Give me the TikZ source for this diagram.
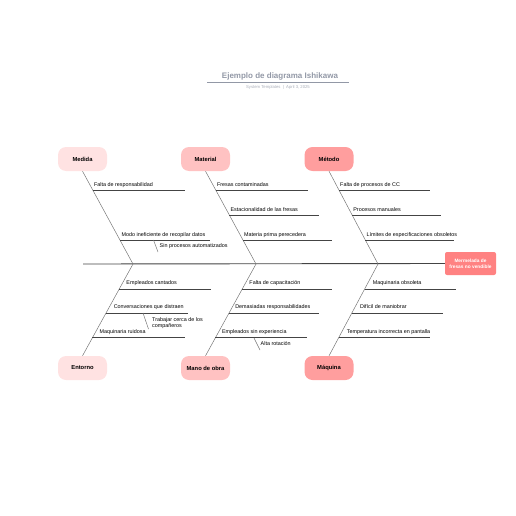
\documentclass[tikz,border=0pt]{standalone}
\usepackage{fontspec}
\setmainfont{Liberation Sans}
\usetikzlibrary{calc}
\definecolor{boxA}{HTML}{FFE2E2}
\definecolor{boxB}{HTML}{FFC2C2}
\definecolor{boxC}{HTML}{FF9E9E}
\definecolor{effectc}{HTML}{FF8282}
\definecolor{titlec}{HTML}{9298A6}
\definecolor{linec}{HTML}{444444}
\definecolor{bonec}{HTML}{777777}
\tikzset{
  catbox/.style={rounded corners=8pt, minimum width=49pt, minimum height=24pt, inner sep=0pt, font=\fontsize{5.8}{7}\selectfont\bfseries},
  effectbox/.style={rounded corners=2pt, fill=effectc, minimum width=51pt, minimum height=23pt, inner sep=0pt, align=center, text=white, font=\fontsize{4.8}{6}\selectfont\bfseries},
  bone/.style={draw=bonec, line width=0.5pt},
  cause/.style={draw=linec, line width=0.8pt},
  spine/.style={draw=linec, line width=0.9pt},
  ctext/.style={anchor=base west, inner sep=0pt, font=\fontsize{5.4}{6.5}\selectfont},
  subtext/.style={anchor=base west, inner sep=0pt, align=left, font=\fontsize{5.4}{6.8}\selectfont},
}
\begin{document}
\begin{tikzpicture}[x=1pt,y=-1pt]
\useasboundingbox (0,0) rectangle (516,516);
% title
\node[inner sep=0pt, font=\fontsize{8}{9}\selectfont\bfseries, text=titlec] (title) at (280,76) {Ejemplo de diagrama Ishikawa};
\coordinate (rl) at (207,82.5);
\coordinate (rr) at (349,82.5);
\draw[titlec, line width=0.7pt] (rl) -- (rr);
\node[inner sep=0pt, font=\fontsize{4.2}{5}\selectfont, text=titlec!80] (sub) at (278,87.5) {System Templates \ |\ \ April 3, 2025};
% boxes
\node[catbox, fill=boxA] (medida) at (82.5,159) {Medida};
\node[catbox, fill=boxB] (material) at (205.5,159) {Material};
\node[catbox, fill=boxC] (metodo) at (329,159) {Método};
\node[catbox, fill=boxA] (entorno) at (82.5,368) {Entorno};
\node[catbox, fill=boxB] (mano) at (205.5,368) {Mano de obra};
\node[catbox, fill=boxC] (maquina) at (329,368) {Máquina};
\node[effectbox] (effect) at (470.5,263.5) {Mermelada de\\fresas no vendible};
% spine
\coordinate (s0) at (83,264);
\draw[spine] (s0) -- (effect.west);
% joints
\coordinate (j1) at (133,264);
\coordinate (j2) at (256,264);
\coordinate (j3) at (378,264);
\draw[bone] (medida.south) -- (j1) -- (entorno.north);
\draw[bone] (material.south) -- (j2) -- (mano.north);
\draw[bone] (metodo.south) -- (j3) -- (maquina.north);
% Medida
\coordinate (a1) at ($(medida.south)!0.204!(j1)$);
\coordinate (a2) at ($(medida.south)!0.742!(j1)$);
\draw[cause] (a1) -- ++(92,0);
\draw[cause] (a2) -- ++(90,0);
\node[ctext] (ta1) at ($(a1)+(1,-4)$) {Falta de responsabilidad};
\node[ctext] (ta2) at ($(a2)+(1.5,-4)$) {Modo ineficiente de recopilar datos};
\coordinate (sa1) at (153.5,240);
\coordinate (sa2) at (158,252);
\draw[bone] (sa1) -- (sa2);
\node[subtext] (tsa) at (159.5,247) {Sin procesos automatizados};
% Material
\coordinate (b1) at ($(material.south)!0.204!(j2)$);
\coordinate (b2) at ($(material.south)!0.473!(j2)$);
\coordinate (b3) at ($(material.south)!0.742!(j2)$);
\draw[cause] (b1) -- ++(92,0);
\draw[cause] (b2) -- ++(90,0);
\draw[cause] (b3) -- ++(89,0);
\node[ctext] (tb1) at ($(b1)+(1,-4)$) {Fresas contaminadas};
\node[ctext] (tb2) at ($(b2)+(1,-4)$) {Estacionalidad de las fresas};
\node[ctext] (tb3) at ($(b3)+(1,-4)$) {Materia prima perecedera};
% Metodo
\coordinate (c1) at ($(metodo.south)!0.204!(j3)$);
\coordinate (c2) at ($(metodo.south)!0.473!(j3)$);
\coordinate (c3) at ($(metodo.south)!0.742!(j3)$);
\draw[cause] (c1) -- ++(91,0);
\draw[cause] (c2) -- ++(89,0);
\draw[cause] (c3) -- ++(89,0);
\node[ctext] (tc1) at ($(c1)+(1,-4)$) {Falta de procesos de CC};
\node[ctext] (tc2) at ($(c2)+(1,-4)$) {Procesos manuales};
\node[ctext] (tc3) at ($(c3)+(1,-4)$) {Límites de especificaciones obsoletos};
% Entorno
\coordinate (d1) at ($(j1)!0.272!(entorno.north)$);
\coordinate (d2) at ($(j1)!0.533!(entorno.north)$);
\coordinate (d3) at ($(j1)!0.804!(entorno.north)$);
\draw[cause] (d1) -- ++(92,0);
\draw[cause] (d2) -- ++(82,0);
\draw[cause] (d3) -- ++(93,0);
\node[ctext] (td1) at ($(d1)+(7,-4)$) {Empleados cantados};
\node[ctext] (td2) at ($(d2)+(7.5,-4)$) {Conversaciones que distraen};
\node[ctext] (td3) at ($(d3)+(7,-4)$) {Maquinaria ruidosa};
\coordinate (sd1) at (143,313);
\coordinate (sd2) at (148.5,329);
\draw[bone] (sd1) -- (sd2);
\node[subtext, anchor=north west] (tsd) at (152,317) {Trabajar cerca de los\\compañeros};
% Mano de obra
\coordinate (e1) at ($(j2)!0.272!(mano.north)$);
\coordinate (e2) at ($(j2)!0.533!(mano.north)$);
\coordinate (e3) at ($(j2)!0.804!(mano.north)$);
\draw[cause] (e1) -- ++(90,0);
\draw[cause] (e2) -- ++(90,0);
\draw[cause] (e3) -- ++(92,0);
\node[ctext] (te1) at ($(e1)+(7,-4)$) {Falta de capacitación};
\node[ctext] (te2) at ($(e2)+(6,-4)$) {Demasiadas responsabilidades};
\node[ctext] (te3) at ($(e3)+(6.5,-4)$) {Empleados sin experiencia};
\coordinate (se1) at (254,338);
\coordinate (se2) at (260,350);
\draw[bone] (se1) -- (se2);
\node[subtext] (tse) at (260.5,345) {Alta rotación};
% Maquina
\coordinate (f1) at ($(j3)!0.272!(maquina.north)$);
\coordinate (f2) at ($(j3)!0.533!(maquina.north)$);
\coordinate (f3) at ($(j3)!0.804!(maquina.north)$);
\draw[cause] (f1) -- ++(91,0);
\draw[cause] (f2) -- ++(91,0);
\draw[cause] (f3) -- ++(91,0);
\node[ctext] (tf1) at ($(f1)+(8,-4)$) {Maquinaria obsoleta};
\node[ctext] (tf2) at ($(f2)+(8,-4)$) {Difícil de maniobrar};
\node[ctext] (tf3) at ($(f3)+(8,-4)$) {Temperatura incorrecta en pantalla};
\end{tikzpicture}
\end{document}
